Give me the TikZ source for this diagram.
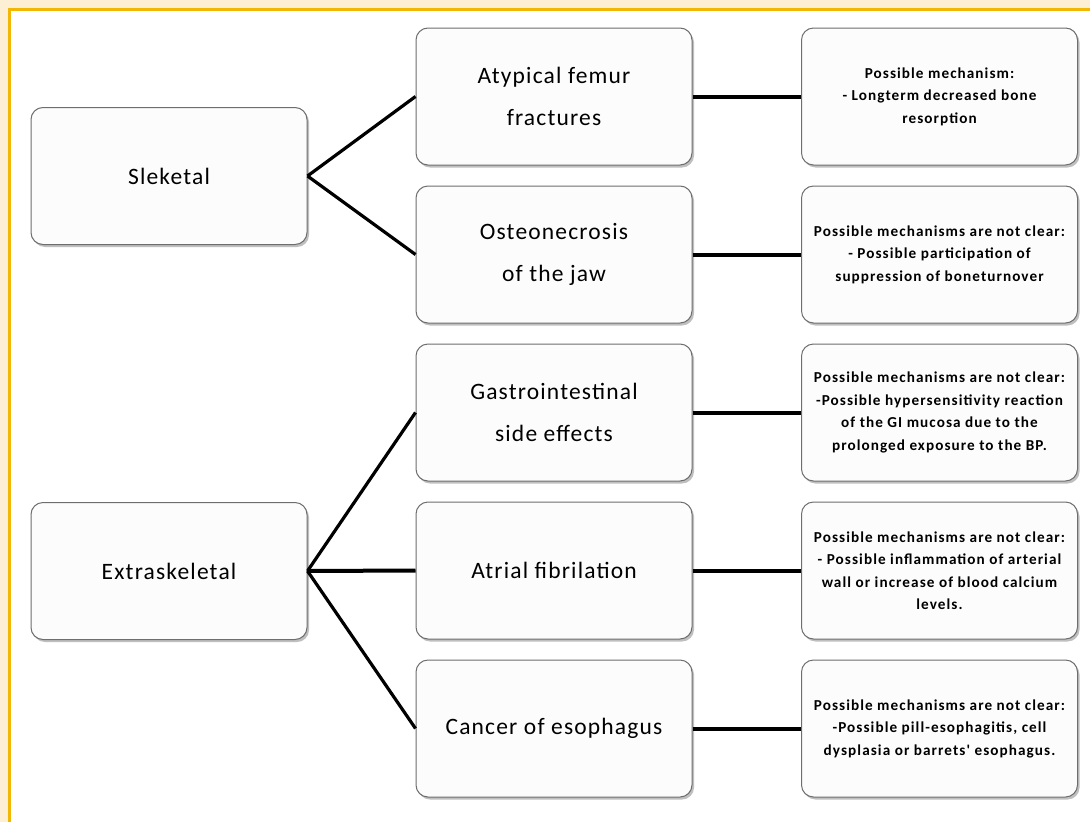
\documentclass[tikz,border=0pt]{standalone}
\usepackage{fontspec}
\setmainfont{Carlito}
\newfontfamily\mainfam[LetterSpace=5]{Carlito}
\newfontfamily\notefam[LetterSpace=7]{Carlito}
\usetikzlibrary{shadows}
\definecolor{cream}{HTML}{FCEFD3}
\definecolor{gold}{HTML}{F2B705}
\definecolor{boxline}{HTML}{6E6E6E}
\definecolor{boxfill}{HTML}{FCFCFC}
\tikzset{
  card/.style={draw=boxline, line width=1pt, fill=boxfill, rounded corners=12pt,
    minimum width=276pt, minimum height=137pt, inner sep=2pt, align=center,
    drop shadow={shadow xshift=2pt, shadow yshift=-2.5pt, fill=black!45, opacity=0.55}},
  maintext/.style={card, font=\mainfam\fontsize{23.5}{42}\selectfont},
  notetext/.style={card, font=\notefam\fontsize{15.2}{22.5}\selectfont\bfseries},
  link/.style={line width=3.2pt, black},
  hlink/.style={line width=4pt, black}
}
\begin{document}
\begin{tikzpicture}[x=1pt, y=-1pt]
\useasboundingbox (0,0) rectangle (1090,822);
\fill[cream] (0,0) rectangle (1090,822);
\fill[white] (9,9) rectangle (1090,822);
\draw[gold, line width=3pt] (9,822) -- (9,9) -- (1090,9);

% left column
\node[maintext] (sk) at (169,176) {Sleketal};
\node[maintext] (ex) at (169,571) {Extraskeletal};

% middle column
\node[maintext] (m1) at (554,96.5) {Atypical femur\\fractures};
\node[maintext] (m2) at (554,254.5) {Osteonecrosis\\of the jaw};
\node[maintext] (m3) at (554,412.5) {Gastrointestinal\\side effects};
\node[maintext] (m4) at (554,570.5) {Atrial fibrilation};
\node[maintext] (m5) at (554,728.5) {Cancer of esophagus};

% right column
\node[notetext] (r1) at (939.5,96.5) {Possible mechanism:\\- Longterm decreased bone\\resorption};
\node[notetext] (r2) at (939.5,254.5) {Possible mechanisms are not clear:\\- Possible participation of\\suppression of boneturnover};
\node[notetext] (r3) at (939.5,412.5) {Possible mechanisms are not clear:\\-Possible hypersensitivity reaction\\of the GI mucosa due to the\\prolonged exposure to the BP.};
\node[notetext] (r4) at (939.5,570.5) {Possible mechanisms are not clear:\\- Possible inflammation of arterial\\wall or increase of blood calcium\\levels.};
\node[notetext] (r5) at (939.5,728.5) {Possible mechanisms are not clear:\\-Possible pill-esophagitis, cell\\dysplasia or barrets' esophagus.};

% connectors
\draw[link] (sk.east) -- (m1.west);
\draw[link] (sk.east) -- (m2.west);
\draw[link] (ex.east) -- (m3.west);
\draw[hlink] (ex.east) -- (m4.west);
\draw[link] (ex.east) -- (m5.west);
\draw[hlink] (m1.east) -- (r1.west);
\draw[hlink] (m2.east) -- (r2.west);
\draw[hlink] (m3.east) -- (r3.west);
\draw[hlink] (m4.east) -- (r4.west);
\draw[hlink] (m5.east) -- (r5.west);
\end{tikzpicture}
\end{document}
